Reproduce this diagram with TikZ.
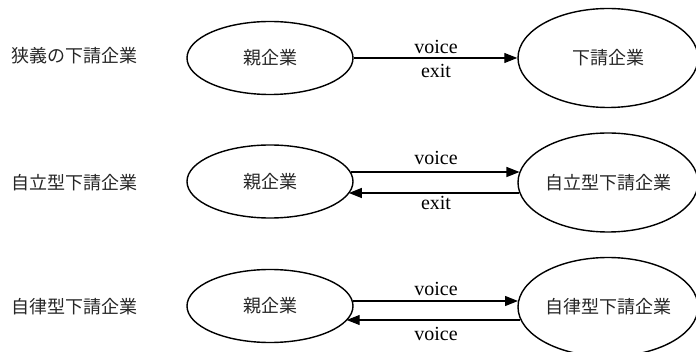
\documentclass[tikz,border=0pt]{standalone}
\usepackage{fontspec}
\setmainfont{Liberation Serif}
\newfontfamily\jpfont{Noto Sans CJK JP}
\usetikzlibrary{arrows.meta,shapes.geometric}

\tikzset{
  parent/.style={ellipse, draw, line width=1.4pt, minimum width=166pt, minimum height=73pt, inner sep=0pt},
  sub/.style={ellipse, draw, line width=1.4pt, minimum width=180pt, minimum height=99pt, inner sep=0pt},
  jp/.style={font=\jpfont\fontsize{18pt}{20pt}\selectfont, text=black!85},
  rowlabel/.style={jp, anchor=west, inner sep=0pt},
  flow/.style={line width=1.2pt, -{Triangle[length=13pt,width=10pt]}},
  lbl/.style={font=\fontsize{20pt}{22pt}\selectfont, inner sep=0pt}
}

\begin{document}
\begin{tikzpicture}[x=1pt, y=-1pt]
\useasboundingbox (0,0) rectangle (696,352);

% row labels
\node[rowlabel] (r1) at (11,56) {狭義の下請企業};
\node[rowlabel] (r2) at (11,183) {自立型下請企業};
\node[rowlabel] (r3) at (11,307) {自律型下請企業};

% parent firms
\node[parent, jp] (p1) at (270,58) {親企業};
\node[parent, jp] (p2) at (270,181.5) {親企業};
\node[parent, jp] (p3) at (270,306) {親企業};

% subcontractors
\node[sub, jp] (s1) at (608,58) {下請企業};
\node[sub, jp] (s2) at (608,182.5) {自立型下請企業};
\node[sub, jp] (s3) at (608,307) {自律型下請企業};

% row 1: one-way relation
\draw[flow] (p1.east) -- (s1.west);
\node[lbl] (v1) at (436,47) {voice};
\node[lbl] (e1) at (436,71) {exit};

% row 2: voice forward, exit back
\coordinate (a2) at (300,172);
\coordinate (b2) at (300,193);
\draw[flow] (p2.6.8 |- a2) -- (s2.173.2 |- a2);
\draw[flow] (s2.186.8 |- b2) -- (p2.351.7 |- b2);
\node[lbl] (v2) at (436,158) {voice};
\node[lbl] (e2) at (436,203) {exit};

% row 3: voice in both directions
\coordinate (a3) at (300,301);
\coordinate (b3) at (300,320);
\draw[flow] (p3.3.5 |- a3) -- (s3.176.2 |- a3);
\draw[flow] (s3.188.5 |- b3) -- (p3.349.6 |- b3);
\node[lbl] (v3) at (436,289) {voice};
\node[lbl] (w3) at (436,334) {voice};
\end{tikzpicture}
\end{document}
